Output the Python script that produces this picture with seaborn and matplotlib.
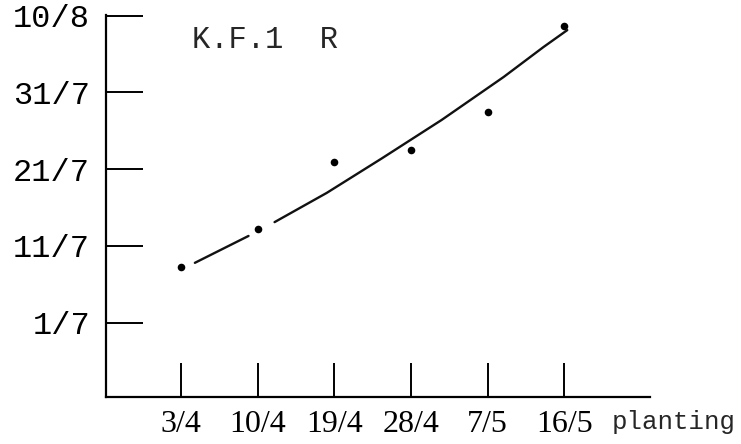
import matplotlib
matplotlib.use("Agg")
import matplotlib.pyplot as plt
import seaborn as sns
import pandas as pd

# planting dates (categorical x) and observed date, as days after 1 July
planting = ["3/4", "10/4", "19/4", "28/4", "7/5", "16/5"]
days_after_1jul = [7.3, 12.2, 20.9, 22.5, 27.5, 38.7]

# hand-drawn curve (position on planting axis, days after 1 July)
curve_pos = [0.18, 0.88, 1.22, 1.90, 2.62, 3.40, 4.21, 4.73, 5.04]
curve_days = [7.8, 11.3, 13.1, 16.9, 21.4, 26.4, 32.0, 35.9, 38.1]
curve_seg = [0, 0, 1, 1, 1, 1, 1, 1, 1]

y_tick_vals = [0, 10, 20, 30, 40]
y_tick_labels = ["1/7", "11/7", "21/7", "31/7", "10/8"]
title_text = "K.F.1  R"
x_axis_word = "planting"

sns.set_theme(style="white")
plt.rcParams["font.family"] = ["Liberation Mono", "DejaVu Sans Mono"]

fig = plt.figure(figsize=(7.41, 4.44), dpi=100)
ax = fig.add_axes([106 / 741, 1 - 397 / 444, (650 - 106) / 741, (397 - 15) / 444])

pts = pd.DataFrame({"pos": list(range(len(planting))), "days": days_after_1jul})
curve = pd.DataFrame({"pos": curve_pos, "days": curve_days, "seg": curve_seg})

sns.lineplot(data=curve, x="pos", y="days", units="seg", estimator=None,
             sort=False, color="#111111", linewidth=1.7, ax=ax)
sns.scatterplot(data=pts, x="pos", y="days", color="black", s=30,
                edgecolor="black", linewidth=0, ax=ax, zorder=3)

ax.set_xlim(-0.98, 6.12)
ax.set_ylim(-9.67, 40.07)
ax.set_xticks(range(len(planting)))
ax.set_xticklabels(planting, family=["Liberation Serif", "DejaVu Serif"], fontsize=23)
ax.set_yticks(y_tick_vals)
ax.set_yticklabels(y_tick_labels, fontsize=23)
ax.set_xlabel("")
ax.set_ylabel("")

for s in ["top", "right"]:
    ax.spines[s].set_visible(False)
for s in ["left", "bottom"]:
    ax.spines[s].set_color("black")
    ax.spines[s].set_linewidth(1.6)

ax.tick_params(axis="x", bottom=True, direction="in", length=24.5, width=1.4,
               pad=9, colors="black")
ax.tick_params(axis="y", left=True, direction="in", length=26.6, width=1.4,
               pad=11.5, colors="black")

fig.text(192 / 741, 1 - 40 / 444, title_text, fontsize=22, va="center", ha="left")
fig.text(612 / 741, 1 - 422 / 444, x_axis_word, fontsize=18.5, va="center", ha="left")

fig.savefig("out.png", dpi=100, facecolor="white")
